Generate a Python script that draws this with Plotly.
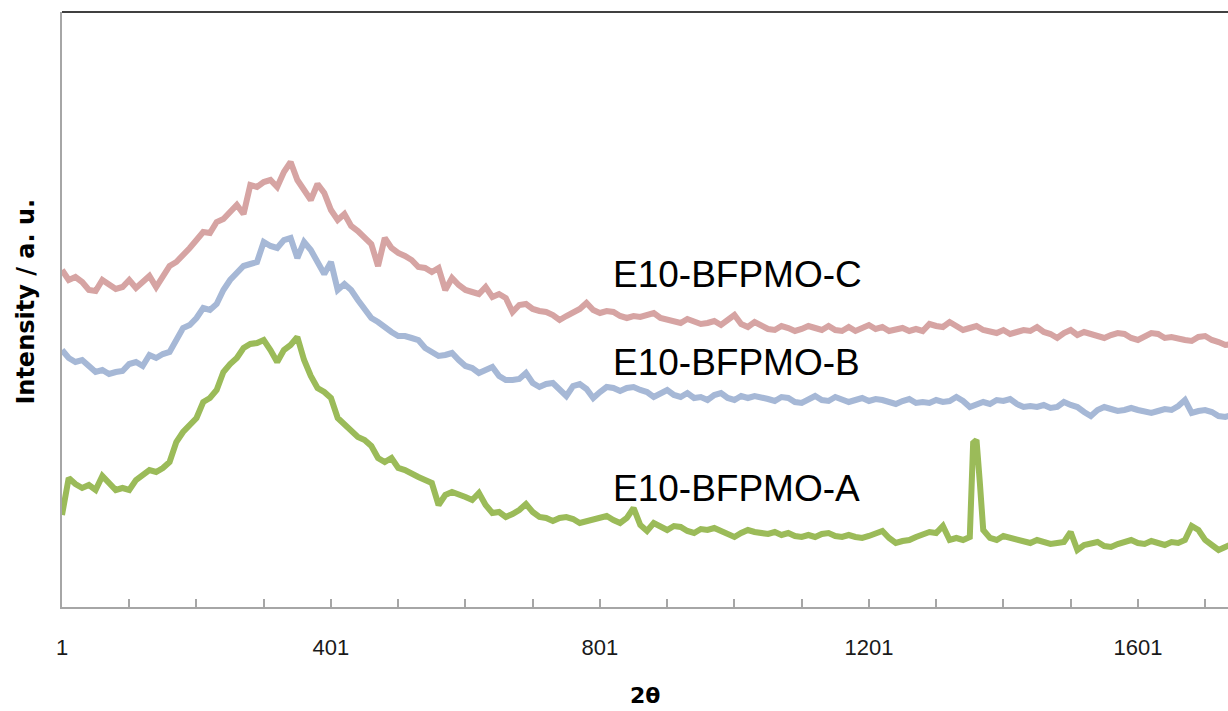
import plotly.graph_objects as go

# 2-theta channel index (category positions of the measurement points shown)
X = list(range(1, 1751, 10))

# Intensities (a.u.), one per X position
RED_C = [337, 327, 330, 325, 317, 316, 327, 323, 318, 320, 327, 319, 325, 331, 320, 331, 341, 345, 351, 359,
         367, 375, 374, 385, 388, 395, 402, 393, 422, 420, 425, 427, 420, 435, 445, 427, 417, 407, 423, 414,
         397, 387, 393, 381, 376, 369, 363, 341, 369, 359, 354, 351, 347, 340, 339, 335, 339, 317, 329, 322,
         317, 315, 313, 320, 310, 313, 309, 295, 302, 303, 298, 296, 295, 292, 287, 291, 294, 298, 304, 297,
         294, 296, 295, 291, 289, 291, 290, 292, 294, 289, 287, 285, 284, 288, 286, 283, 284, 286, 282, 287,
         292, 283, 280, 285, 282, 278, 277, 281, 279, 276, 278, 281, 279, 277, 281, 277, 276, 280, 276, 279,
         282, 278, 280, 276, 277, 279, 276, 278, 276, 283, 281, 280, 285, 281, 277, 279, 281, 277, 275, 274,
         277, 273, 275, 277, 276, 280, 275, 273, 269, 274, 277, 272, 275, 273, 271, 269, 272, 274, 273, 269,
         267, 271, 274, 273, 269, 270, 268, 267, 266, 270, 271, 267, 265, 262, 263]

BLUE_B = [257, 249, 245, 247, 241, 235, 237, 233, 235, 236, 243, 245, 241, 252, 249, 253, 255, 267, 279, 282,
          289, 299, 297, 303, 317, 327, 335, 341, 343, 345, 365, 361, 359, 367, 369, 349, 365, 357, 345, 333,
          345, 317, 323, 317, 307, 297, 289, 285, 279, 275, 271, 271, 269, 267, 259, 255, 251, 252, 254, 247,
          241, 239, 234, 237, 240, 231, 227, 227, 228, 234, 224, 220, 223, 224, 217, 211, 221, 223, 218, 209,
          215, 220, 219, 216, 219, 220, 217, 215, 210, 213, 217, 212, 210, 214, 209, 210, 207, 212, 214, 209,
          207, 211, 209, 211, 210, 208, 206, 210, 209, 205, 204, 208, 211, 207, 206, 210, 208, 205, 207, 209,
          206, 208, 207, 205, 203, 206, 208, 204, 205, 204, 207, 205, 206, 210, 206, 200, 203, 205, 203, 207,
          206, 208, 203, 200, 201, 200, 202, 199, 200, 205, 202, 200, 195, 191, 197, 200, 198, 196, 197, 199,
          197, 195, 194, 196, 198, 197, 201, 207, 194, 196, 197, 195, 191, 190, 192]

GREEN_A = [92, 129, 123, 119, 122, 117, 131, 125, 117, 119, 117, 127, 132, 137, 135, 139, 145, 165, 175, 181,
           189, 205, 209, 217, 235, 243, 249, 259, 263, 264, 267, 257, 245, 257, 262, 270, 247, 231, 219, 215,
           209, 189, 183, 177, 170, 167, 161, 149, 145, 149, 139, 137, 133, 130, 127, 124, 102, 112, 115, 113,
           110, 107, 114, 102, 94, 95, 90, 93, 97, 103, 95, 90, 89, 86, 89, 90, 88, 84, 86, 87,
           89, 91, 87, 84, 89, 99, 82, 76, 84, 80, 77, 81, 80, 76, 74, 78, 77, 79, 76, 73,
           70, 74, 77, 75, 74, 73, 75, 72, 74, 71, 70, 72, 70, 73, 74, 71, 70, 72, 70, 69,
           71, 73, 76, 69, 64, 66, 67, 70, 72, 75, 74, 81, 67, 69, 67, 70, 167, 77, 69, 67,
           71, 69, 67, 65, 64, 67, 65, 63, 64, 65, 75, 57, 62, 64, 65, 61, 60, 63, 65, 67,
           64, 63, 66, 64, 62, 65, 64, 67, 81, 77, 67, 62, 57, 60, 63]

# extra channels read around the sharp reflection of sample A
GREEN_PEAK_X = [1356, 1366]
GREEN_PEAK_Y = [164, 124]

TICK_VALS = list(range(1, 1801, 100))
TICK_LABELS = {1: "1", 401: "401", 801: "801", 1201: "1201", 1601: "1601"}

SERIES = [("E10-BFPMO-C", RED_C, "#D6A4A3"),
          ("E10-BFPMO-B", BLUE_B, "#A6B8D6"),
          ("E10-BFPMO-A", GREEN_A, "#9BBB59")]
LABEL_X = [817, 817, 817]
LABEL_Y = [333, 245, 119]

fig = go.Figure()
for name, ys, col in SERIES:
    xs = list(X)
    yy = list(ys)
    if name.endswith("-A"):
        pts = sorted(list(zip(xs, yy)) + list(zip(GREEN_PEAK_X, GREEN_PEAK_Y)))
        xs = [p[0] for p in pts]
        yy = [p[1] for p in pts]
    fig.add_trace(go.Scatter(x=xs, y=yy, mode="lines", name=name,
                             line=dict(color=col, width=6), showlegend=False))

for (name, _, _), lx, ly in zip(SERIES, LABEL_X, LABEL_Y):
    fig.add_annotation(x=lx, y=ly, xref="x", yref="y", text=name, showarrow=False,
                       xanchor="left", yanchor="middle",
                       font=dict(family="Liberation Sans", size=37, color="#000000"))

fig.add_annotation(x=0.5, y=-0.148, xref="paper", yref="paper", text="<b>2θ</b>",
                   showarrow=False, xanchor="center", yanchor="middle",
                   font=dict(family="DejaVu Sans", size=22, color="#000000"))
fig.add_annotation(x=-0.031, y=0.513, xref="paper", yref="paper", text="<b>Intensity / a. u.</b>",
                   showarrow=False, textangle=-90, xanchor="center", yanchor="middle",
                   font=dict(family="DejaVu Sans", size=24, color="#000000"))

fig.add_shape(type="line", xref="paper", yref="paper", x0=0, x1=1, y0=1, y1=1,
              line=dict(color="#000000", width=1.5))

fig.update_layout(
    width=1228, height=711,
    margin=dict(l=62, r=0, t=12, b=104),
    plot_bgcolor="white", paper_bgcolor="white",
    xaxis=dict(range=[1, 1735], showgrid=False, zeroline=False,
               showline=True, linecolor="#A6A6A6", linewidth=2,
               ticks="inside", ticklen=8, tickwidth=1.5, tickcolor="#A6A6A6",
               tickvals=TICK_VALS, ticktext=[TICK_LABELS.get(v, "") for v in TICK_VALS],
               ticklabelstandoff=20,
               tickfont=dict(family="Liberation Sans", size=22, color="#1a1a1a")),
    yaxis=dict(range=[0, 595], showgrid=False, zeroline=False,
               showline=True, linecolor="#A6A6A6", linewidth=2,
               showticklabels=False, ticks=""),
)

# remove the default page margin so the figure fills the window exactly
fig.write_html("out.html",
               config={"displayModeBar": False},
               post_script="document.body.style.margin='0';document.body.style.overflow='hidden';")
